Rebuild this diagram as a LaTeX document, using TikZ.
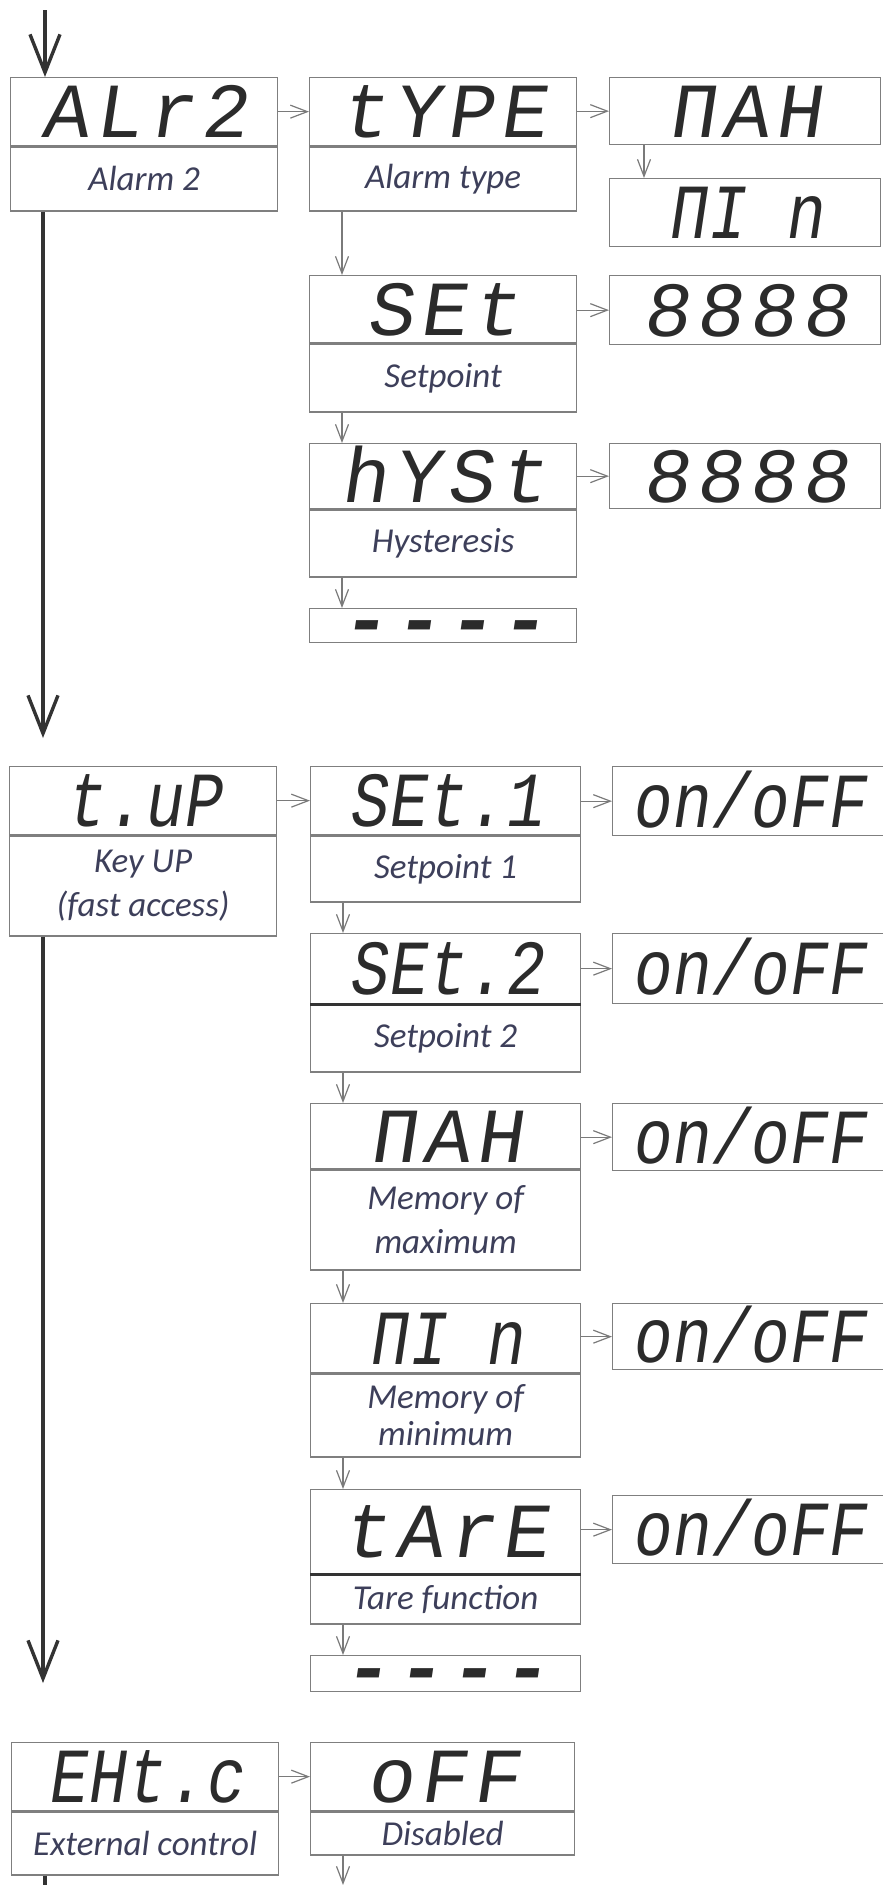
\documentclass[tikz,border=0pt]{standalone}
\usepackage{fontspec}
\usepackage{xcolor}
\usetikzlibrary{arrows.meta, positioning}
\newfontfamily\segwide[FakeSlant=0.15, LetterSpace=8]{Liberation Mono}
\newfontfamily\segtight[FakeSlant=0.15, FakeStretch=0.82, LetterSpace=1]{Liberation Mono}
\newfontfamily\labfont{Carlito}
\definecolor{frame}{HTML}{7f7f7f}
\definecolor{segink}{HTML}{2b2b2b}
\definecolor{labink}{HTML}{3d3f5a}
\definecolor{stepgray}{HTML}{7a7a7a}
\definecolor{mainink}{HTML}{333333}
\tikzset{
  dispBox/.style = {draw=frame, line width=1.3pt, inner sep=0pt, anchor=north west,
    text=segink, text height=52pt, text depth=0pt},
  wideSeg/.style = {dispBox, font=\segwide\fontsize{78}{78}\selectfont},
  tightSeg/.style = {dispBox, font=\segtight\fontsize{78}{78}\selectfont},
  endBox/.style = {draw=frame, line width=1.3pt, inner sep=0pt, anchor=north west,
    text=segink, font=\segwide\bfseries\fontsize{78}{78}\selectfont},
  labBox/.style = {draw=frame, line width=1.3pt, inner sep=0pt, align=center,
    text=labink, font=\labfont\itshape\fontsize{35}{44}\selectfont},
  colA/.style = {minimum width=267pt},
  colB/.style = {minimum width=267pt},
  colBw/.style = {minimum width=270pt},
  colC/.style = {minimum width=271pt},
  stepArrow/.style = {-{Straight Barb[length=17pt, width=13pt]}, line width=1.2pt, draw=stepgray},
  mainArrow/.style = {-{Straight Barb[length=38pt, width=30pt]}, line width=3.4pt, draw=mainink},
  mainLine/.style = {line width=3.4pt, draw=mainink},
  darkRule/.style = {line width=2.6pt, draw=mainink},
}
\begin{document}
\begin{tikzpicture}[x=1pt, y=-1pt]
\useasboundingbox (0,0) rectangle (883,1885);

\node[wideSeg, colA, minimum height=68pt] (alr) at (10,77) {ALr2};
\node[labBox, colA, minimum height=64pt, below=0pt of alr] (alrL) {Alarm 2};
\node[wideSeg, colB, minimum height=68pt] (type) at (309,77) {tYPE};
\node[labBox, colB, minimum height=64pt, below=0pt of type] (typeL) {Alarm type};
\node[wideSeg, colC, minimum height=67pt] (max1) at (609,77) {ΠAH};
\node[tightSeg, colC, minimum height=68pt] (min1) at (609,178) {ΠI n};
\node[wideSeg, colB, minimum height=67pt] (set) at (309,275) {SEt};
\node[labBox, colB, minimum height=68pt, below=0pt of set] (setL) {Setpoint};
\node[wideSeg, colC, minimum height=69pt] (setV) at (609,275) {8888};
\node[wideSeg, colB, minimum height=65pt] (hyst) at (309,443) {hYSt};
\node[labBox, colB, minimum height=67pt, below=0pt of hyst] (hystL) {Hysteresis};
\node[wideSeg, colC, minimum height=65pt] (hystV) at (609,443) {8888};
\node[endBox, colB, minimum height=34pt] (end1) at (309,608) {\raisebox{-20pt}[0pt][0pt]{----}};

\node[tightSeg, colA, minimum height=68pt] (kup) at (9,766) {t.uP};
\node[labBox, colA, minimum height=100pt, below=0pt of kup] (kupL) {Key UP\\(fast access)};
\node[tightSeg, colBw, minimum height=68pt] (set1) at (310,766) {SEt.1};
\node[labBox, colBw, minimum height=66pt, below=0pt of set1] (set1L) {Setpoint 1};
\node[tightSeg, colC, minimum height=69pt] (set1V) at (612,766) {on/oFF};
\node[tightSeg, colBw, minimum height=70pt] (set2) at (310,933) {SEt.2};
\node[labBox, colBw, minimum height=67pt, below=0pt of set2] (set2L) {Setpoint 2};
\node[tightSeg, colC, minimum height=70pt] (set2V) at (612,933) {on/oFF};
\node[wideSeg, colBw, minimum height=65pt] (max2) at (310,1103) {ΠAH};
\node[labBox, colBw, minimum height=100pt, below=0pt of max2] (max2L) {Memory of\\maximum};
\node[tightSeg, colC, minimum height=67pt] (max2V) at (612,1103) {on/oFF};
\node[tightSeg, colBw, minimum height=69pt] (min2) at (310,1303) {ΠI n};
\node[labBox, colBw, minimum height=83pt, below=0pt of min2,
  font=\labfont\itshape\fontsize{35}{37}\selectfont] (min2L) {Memory of\\minimum};
\node[tightSeg, colC, minimum height=66pt] (min2V) at (612,1303) {on/oFF};
\node[wideSeg, colBw, minimum height=84pt] (tare) at (310,1489) {tArE};
\node[labBox, colBw, minimum height=49pt, below=0pt of tare] (tareL) {Tare function};
\node[tightSeg, colC, minimum height=68pt] (tareV) at (612,1495) {on/oFF};
\node[endBox, colBw, minimum height=36pt] (end2) at (310,1655) {\raisebox{-20pt}[0pt][0pt]{----}};

\node[tightSeg, colA, minimum height=68pt] (ext) at (11,1742) {EHt.c};
\node[labBox, colA, minimum height=63pt, below=0pt of ext] (extL) {External control};
\node[wideSeg, minimum width=264pt, minimum height=68pt] (off) at (310,1742) {oFF};
\node[labBox, minimum width=264pt, minimum height=43pt, below=0pt of off] (offL) {Disabled};

\draw[darkRule] (set2L.north west) -- (set2L.north east);
\draw[darkRule] (tareL.north west) -- (tareL.north east);

\coordinate (topIn) at (45,10);
\coordinate (tip1) at (43,738);
\coordinate (tip2) at (43,1683);
\coordinate (exitA) at (45,1885);
\coordinate (exitB) at (343,1885);

\draw[mainArrow] (topIn) -- (topIn |- alr.north);
\draw[mainArrow] (tip1 |- alrL.south) -- (tip1);
\draw[mainArrow] (tip2 |- kupL.south) -- (tip2);
\draw[mainLine] (exitA |- extL.south) -- (exitA);

\draw[stepArrow] (alr.east |- type.west) -- (type.west);
\draw[stepArrow] (type.east |- max1.west) -- (max1.west);
\draw[stepArrow] (set.east |- setV.west) -- (setV.west);
\draw[stepArrow] (hyst.east |- hystV.west) -- (hystV.west);
\draw[stepArrow] ([xshift=35pt]max1.south west) -- ([xshift=35pt]min1.north west);
\draw[stepArrow] ([xshift=33pt]typeL.south west) -- ([xshift=33pt]set.north west);
\draw[stepArrow] ([xshift=33pt]setL.south west) -- ([xshift=33pt]hyst.north west);
\draw[stepArrow] ([xshift=33pt]hystL.south west) -- ([xshift=33pt]end1.north west);

\draw[stepArrow] (kup.east |- set1.west) -- (set1.west);
\draw[stepArrow] (set1.east |- set1V.west) -- (set1V.west);
\draw[stepArrow] (set2.east |- set2V.west) -- (set2V.west);
\draw[stepArrow] (max2.east |- max2V.west) -- (max2V.west);
\draw[stepArrow] (min2.east |- min2V.west) -- (min2V.west);
\draw[stepArrow] (tare.east |- tareV.west) -- (tareV.west);
\draw[stepArrow] ([xshift=33pt]set1L.south west) -- ([xshift=33pt]set2.north west);
\draw[stepArrow] ([xshift=33pt]set2L.south west) -- ([xshift=33pt]max2.north west);
\draw[stepArrow] ([xshift=33pt]max2L.south west) -- ([xshift=33pt]min2.north west);
\draw[stepArrow] ([xshift=33pt]min2L.south west) -- ([xshift=33pt]tare.north west);
\draw[stepArrow] ([xshift=33pt]tareL.south west) -- ([xshift=33pt]end2.north west);

\draw[stepArrow] (ext.east |- off.west) -- (off.west);
\draw[stepArrow] (exitB |- offL.south) -- (exitB);

\end{tikzpicture}
\end{document}
